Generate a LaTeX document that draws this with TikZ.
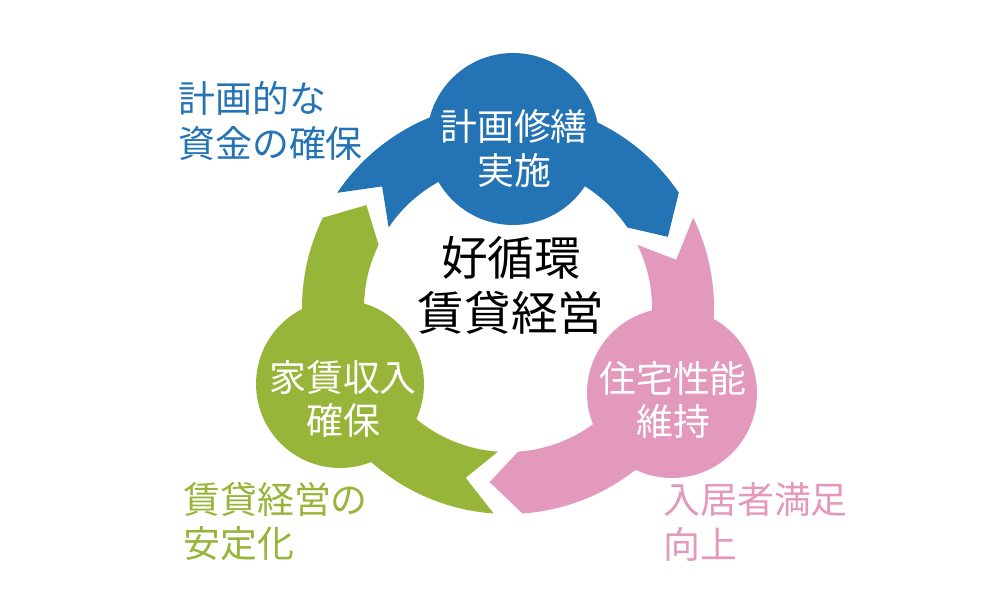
\documentclass[tikz,border=0pt]{standalone}
\usepackage{fontspec}
\setmainfont{Noto Sans CJK JP}
\usetikzlibrary{calc}
\definecolor{cblue}{HTML}{2473B4}
\definecolor{cgreen}{HTML}{97B538}
\definecolor{cpink}{HTML}{E399BC}

\begin{document}
\begin{tikzpicture}[x=0.02cm, y=0.02cm,
	disc/.style={circle, inner sep=0pt, minimum size=#1},
	intext/.style={white, align=center, inner sep=0pt, font=\fontsize{21}{24.5}\selectfont},
	side/.style={anchor=west, align=left, inner sep=0pt, font=\fontsize{21}{25.6}\selectfont}]
	\useasboundingbox (0,0) rectangle (1000,609);
	\coordinate (hub) at (508,301);
	% three arrow bands round the hub
	\foreach \a/\c in {90/cblue, -30/cpink, 210/cgreen}{
		\fill[\c, shift={(hub)}] ({\a+56}:206) arc[start angle=\a+56, end angle=\a-56, radius=206]
			-- ({\a-66}:175) -- ({\a-56}:144) arc[start angle=\a-56, end angle=\a+56, radius=144]
			-- ({\a+46}:175) -- cycle;
	}
	\node[disc=3.44cm, fill=cblue] (repair) at (513,470) {};
	\node[disc=3.40cm, fill=cpink] (upkeep) at (672,216) {};
	\node[disc=3.36cm, fill=cgreen] (rent) at (340,225) {};
	\node[intext] (repairtxt) at (514,460.5) {計画修繕\\実施};
	\node[intext] (upkeeptxt) at (673,209.5) {住宅性能\\維持};
	\node[intext] (renttxt) at (343,210.5) {家賃収入\\確保};
	\node[align=center, inner sep=0pt, font=\fontsize{26.5}{31.3}\selectfont] (core) at (511,323.5) {好循環\\賃貸経営};
	\node[side, cblue] (fund) at (178,488) {計画的な\\資金の確保};
	\node[side, cgreen] (stable) at (183,87.5) {賃貸経営の\\安定化};
	\node[side, cpink] (satisfy) at (663,87.5) {入居者満足\\向上};
\end{tikzpicture}
\end{document}
